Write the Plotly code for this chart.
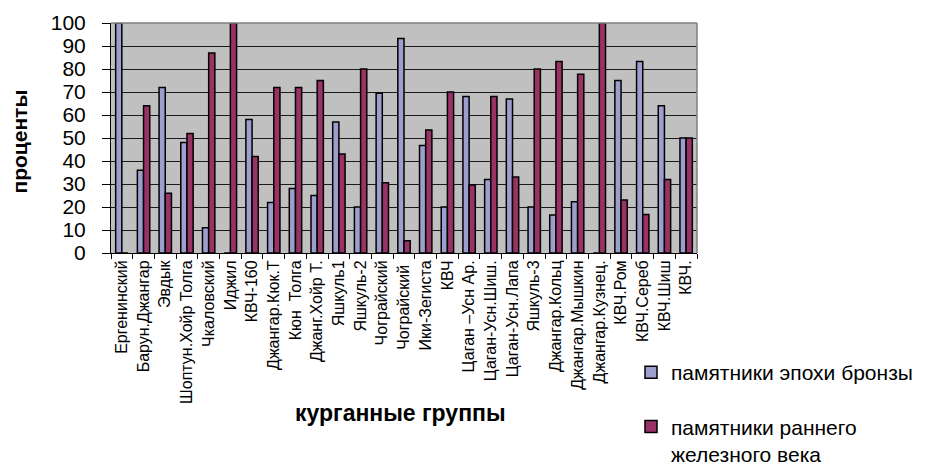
import plotly.graph_objects as go

categories = ["Ергенинский", "Барун.Джангар", "Эвдык", "Шоптун.Хойр Толга", "Чкаловский",
              "Иджил", "КВЧ-160", "Джангар.Кюк.Т", "Кюн  Толга", "Джанг.Хойр Т.",
              "Яшкуль1", "Яшкуль-2", "Чограйский", "Чограйский ", "Ики-Зегиста",
              "КВЧ", "Цаган –Усн Ар.", "Цаган-Усн.Шиш.", "Цаган-Усн.Лапа", "Яшкуль-3",
              "Джангар.Кольц", "Джангар.Мышкин", "Джангар.Кузнец.", "КВЧ.Ром", "КВЧ.Сереб",
              "КВЧ.Шиш", "КВЧ."]
bronze = [100, 36, 72, 48, 11, 0, 58, 22, 28, 25, 57, 20, 69.5, 93.3, 46.7,
          20, 68, 32, 67, 20, 16.5, 22.3, 0, 75, 83.3, 64, 50]
iron = [0, 64, 26, 52, 87, 100, 42, 72, 72, 75, 43, 80, 30.5, 5.3, 53.5,
        70, 29.6, 68, 33, 80, 83.3, 77.7, 100, 23, 16.7, 32, 50]
y_ticks = list(range(0, 101, 10))

series_names = ["памятники эпохи бронзы", "памятники раннего<br>железного века"]
colors = ["#9E9ECE", "#993366"]

FONT = "Liberation Sans, Arial, sans-serif"

fig = go.Figure()
for name, vals, col, grp in zip(series_names, [bronze, iron], colors, ["a", "b"]):
    fig.add_trace(go.Bar(
        x=categories, y=vals, name=name, legendgroup=grp,
        marker=dict(color=col, line=dict(color="black", width=1.5)),
    ))

fig.update_layout(
    width=932, height=465,
    margin=dict(l=111, r=235, t=23, b=212, autoexpand=False),
    paper_bgcolor="white", plot_bgcolor="#C0C0C0",
    barmode="group", bargap=0.43, bargroupgap=0,
    font=dict(family=FONT, color="black"),
    showlegend=True,
    legend=dict(
        xref="container", yref="container", x=631 / 932, y=1 - 352 / 465,
        xanchor="left", yanchor="top", valign="top",
        font=dict(size=21, family=FONT), tracegroupgap=24,
        bgcolor="rgba(0,0,0,0)", itemwidth=30,
    ),
    annotations=[
        dict(text="<b>проценты</b>", xref="paper", yref="paper", x=-0.156, y=0.483,
             xanchor="center", yanchor="middle", textangle=-90, showarrow=False,
             font=dict(size=21, family=FONT)),
        dict(text="<b>курганные группы</b>", xref="paper", yref="paper", x=0.494, y=-0.696,
             xanchor="center", yanchor="middle", showarrow=False,
             font=dict(size=23, family=FONT)),
    ],
)

fig.update_xaxes(
    type="category", tickangle=-90, tickfont=dict(size=16, family=FONT),
    tickmode="array", tickvals=categories, ticktext=categories,
    ticks="outside", tickson="boundaries", ticklen=5, tickcolor="black",
    showline=True, linecolor="black", linewidth=1, mirror=False,
    showgrid=False,
)
fig.update_yaxes(
    range=[0, 100], tickvals=y_ticks, ticktext=[str(v) for v in y_ticks],
    tickfont=dict(size=21, family=FONT),
    ticks="outside", ticklen=8, tickcolor="black", ticklabelstandoff=12,
    showline=True, linecolor="black", linewidth=1,
    showgrid=True, gridcolor="#1a1a1a", gridwidth=1,
    zeroline=False,
)
fig.add_shape(type="line", xref="paper", yref="paper", x0=1, x1=1, y0=0, y1=1,
              line=dict(color="#808080", width=1.5))
fig.add_shape(type="line", xref="paper", yref="paper", x0=0, x1=1, y0=1, y1=1,
              line=dict(color="#808080", width=1.5))

fig.write_html("out.html", config={"displayModeBar": False},
               post_script="document.body.style.margin='0';")
